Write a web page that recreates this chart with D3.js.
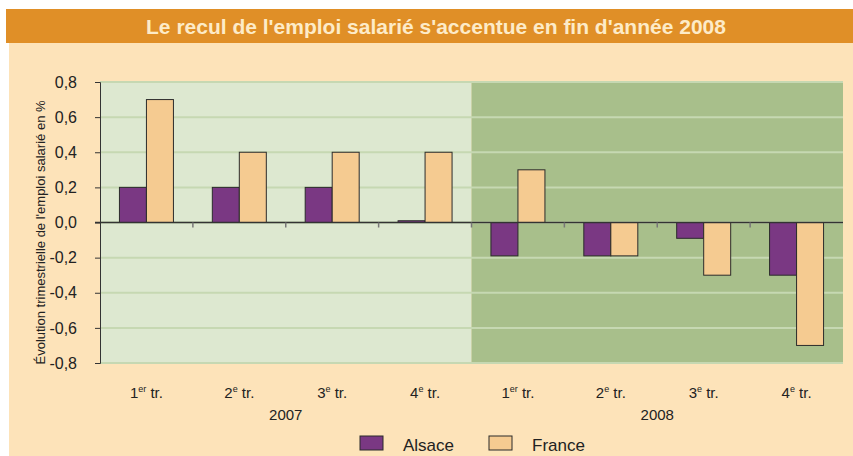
<!DOCTYPE html>
<html>
<head>
<meta charset="utf-8">
<script src="https://cdn.jsdelivr.net/npm/d3@7"></script>
<style>
  body { margin: 0; background: #fff; }
  svg text { font-family: "Liberation Sans", Arial, sans-serif; }
</style>
</head>
<body>
<div id="chart"></div>
<script>
const quarters = ['1', '2', '3', '4', '1', '2', '3', '4'];
const suffixes = ['er', 'e', 'e', 'e', 'er', 'e', 'e', 'e'];
const years = ['2007', '2008'];
const alsace = [0.2, 0.2, 0.2, 0.01, -0.19, -0.19, -0.09, -0.3];
const france = [0.7, 0.4, 0.4, 0.4, 0.3, -0.19, -0.3, -0.7];
const yTicks = [0.8, 0.6, 0.4, 0.2, 0, -0.2, -0.4, -0.6, -0.8];
const seriesNames = ['Alsace', 'France'];
const seriesColors = ['#7a3883', '#f5cb91'];

const width = 853, height = 456;
const margin = {left: 100, right: 10, top: 82, bottom: 93};

const svg = d3.select('#chart').append('svg')
    .attr('width', width)
    .attr('height', height);

// background panel + title bar
svg.append('rect').attr('x', 9).attr('y', 43).attr('width', width - 9).attr('height', height - 43)
    .attr('fill', '#fde3b9');
svg.append('rect').attr('x', 6).attr('y', 9).attr('width', width - 6).attr('height', 34)
    .attr('fill', '#e08f27');
svg.append('text')
    .attr('x', 436).attr('y', 33.5)
    .attr('text-anchor', 'middle')
    .attr('font-size', 21).attr('font-weight', 'bold')
    .attr('fill', '#fdebc8')
    .text("Le recul de l'emploi salarié s'accentue en fin d'année 2008");

const idx = d3.range(alsace.length);
const x = d3.scaleBand().domain(idx).range([margin.left, width - margin.right]);
const xInner = d3.scaleBand().domain([0, 1]).range([0, x.bandwidth()]).paddingInner(0).paddingOuter(0.72);
const y = d3.scaleLinear().domain([-0.8, 0.8]).range([height - margin.bottom, margin.top]);

// year shading
svg.selectAll('rect.year')
    .data(years)
    .enter()
    .append('rect')
    .attr('x', (d, i) => x(i * 4))
    .attr('y', y(0.8))
    .attr('width', x.bandwidth() * 4)
    .attr('height', y(-0.8) - y(0.8))
    .attr('fill', (d, i) => i === 0 ? '#dde8d0' : '#a8bf8b');

// gridlines
svg.selectAll('line.grid')
    .data(yTicks)
    .enter()
    .append('line')
    .attr('x1', margin.left).attr('x2', width - margin.right)
    .attr('y1', d => y(d)).attr('y2', d => y(d))
    .attr('stroke', '#c6d8b2').attr('stroke-width', 2);

// bars
const values = [alsace, france];
values.forEach((vals, s) => {
  svg.selectAll('rect.s' + s)
      .data(vals)
      .enter()
      .append('rect')
      .attr('x', (d, i) => x(i) + xInner(s))
      .attr('y', d => y(Math.max(0, d)))
      .attr('width', xInner.bandwidth())
      .attr('height', d => Math.abs(y(d) - y(0)))
      .attr('fill', seriesColors[s])
      .attr('stroke', '#2b2b2b')
      .attr('stroke-width', 1);
});

// y axis
const yAxis = svg.append('g')
    .attr('transform', `translate(${margin.left},0)`)
    .call(d3.axisLeft(y).tickValues(yTicks).tickSize(5).tickPadding(18)
      .tickFormat(d => d3.format('.1f')(d).replace('.', ',').replace('−', '-')));
yAxis.select('.domain').attr('stroke', '#333');
yAxis.selectAll('.tick line').attr('stroke', '#333');
yAxis.selectAll('.tick text').attr('font-size', 16).attr('fill', '#222')
    .attr('font-family', '"Liberation Sans", Arial, sans-serif');

// zero line and category ticks
svg.append('line')
    .attr('x1', margin.left - 5).attr('x2', width - margin.right)
    .attr('y1', y(0)).attr('y2', y(0))
    .attr('stroke', '#333').attr('stroke-width', 1.5);
svg.selectAll('line.ctick')
    .data(d3.range(1, 8))
    .enter()
    .append('line')
    .attr('x1', d => x(d)).attr('x2', d => x(d))
    .attr('y1', y(0)).attr('y2', y(0) + 5)
    .attr('stroke', '#777').attr('stroke-width', 1.5);

// y title
svg.append('text')
    .attr('transform', `translate(45,${(y(0.8) + y(-0.8)) / 2 + 10}) rotate(-90)`)
    .attr('text-anchor', 'middle')
    .attr('font-size', 13)
    .attr('fill', '#222')
    .text("Évolution trimestrielle de l'emploi salarié en %");

// category labels
const cat = svg.selectAll('text.cat')
    .data(idx)
    .enter()
    .append('text')
    .attr('x', d => x(d) + x.bandwidth() / 2)
    .attr('y', 398)
    .attr('text-anchor', 'middle')
    .attr('font-size', 15)
    .attr('fill', '#222');
cat.append('tspan').text(d => quarters[d]);
cat.append('tspan').attr('font-size', 9).attr('dy', -6).text(d => suffixes[d]);
cat.append('tspan').attr('dy', 6).text(' tr.');

// year labels
svg.selectAll('text.year')
    .data(years)
    .enter()
    .append('text')
    .attr('x', (d, i) => x(i * 4) + x.bandwidth() * 2)
    .attr('y', 420)
    .attr('text-anchor', 'middle')
    .attr('font-size', 15)
    .attr('fill', '#222')
    .text(d => d);

// legend
const legendX = [360, 489];
seriesNames.forEach((name, s) => {
  svg.append('rect')
      .attr('x', legendX[s]).attr('y', 436)
      .attr('width', 23).attr('height', 14)
      .attr('fill', seriesColors[s])
      .attr('stroke', '#2b2b2b');
  svg.append('text')
      .attr('x', legendX[s] + 43).attr('y', 451)
      .attr('font-size', 17)
      .attr('fill', '#222')
      .text(name);
});
</script>
</body>
</html>
